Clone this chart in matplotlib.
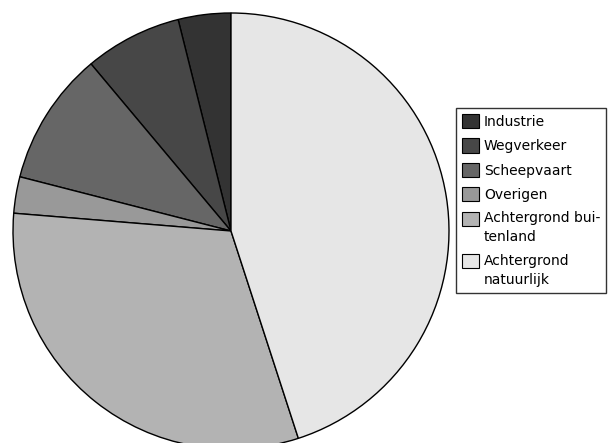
import matplotlib
matplotlib.use('Agg')
import matplotlib.pyplot as plt

# Sources and their shares (%)
labels = ['Industrie', 'Wegverkeer', 'Scheepvaart', 'Overigen',
          'Achtergrond bui-\ntenland', 'Achtergrond\nnatuurlijk']
values = [3.9, 7.2, 9.9, 2.7, 31.3, 45.0]
colors = ['#333333', '#474747', '#666666', '#999999', '#b3b3b3', '#e6e6e6']

fig = plt.figure(figsize=(6.10, 4.43), dpi=100)
ax = fig.add_axes([0, 0, 1, 1])

wedges, _ = ax.pie(values, colors=colors, startangle=90, counterclock=True,
                   center=(231, 443 - 231), radius=218,
                   wedgeprops=dict(edgecolor='black', linewidth=1))
ax.set_xlim(0, 610)
ax.set_ylim(0, 443)
ax.set_aspect('equal')
ax.axis('off')

leg = fig.legend(wedges, labels, loc='upper left',
                 bbox_to_anchor=(456 / 610, 1 - 108 / 443),
                 fontsize=10, frameon=True, fancybox=False,
                 edgecolor='black', handlelength=1.2, handleheight=1.2,
                 handletextpad=0.35, labelspacing=0.68, borderpad=0.45,
                 borderaxespad=0)
leg.get_frame().set_linewidth(1)
for h, t in zip(leg.legend_handles, leg.get_texts()):
    h.set_linewidth(0.8)
    t.set_linespacing(1.45)
    # two-line labels: put the box next to the first line
    if '\n' in t.get_text():
        h.set_y(h.get_y() + 7)

fig.savefig('out.png', dpi=100)
